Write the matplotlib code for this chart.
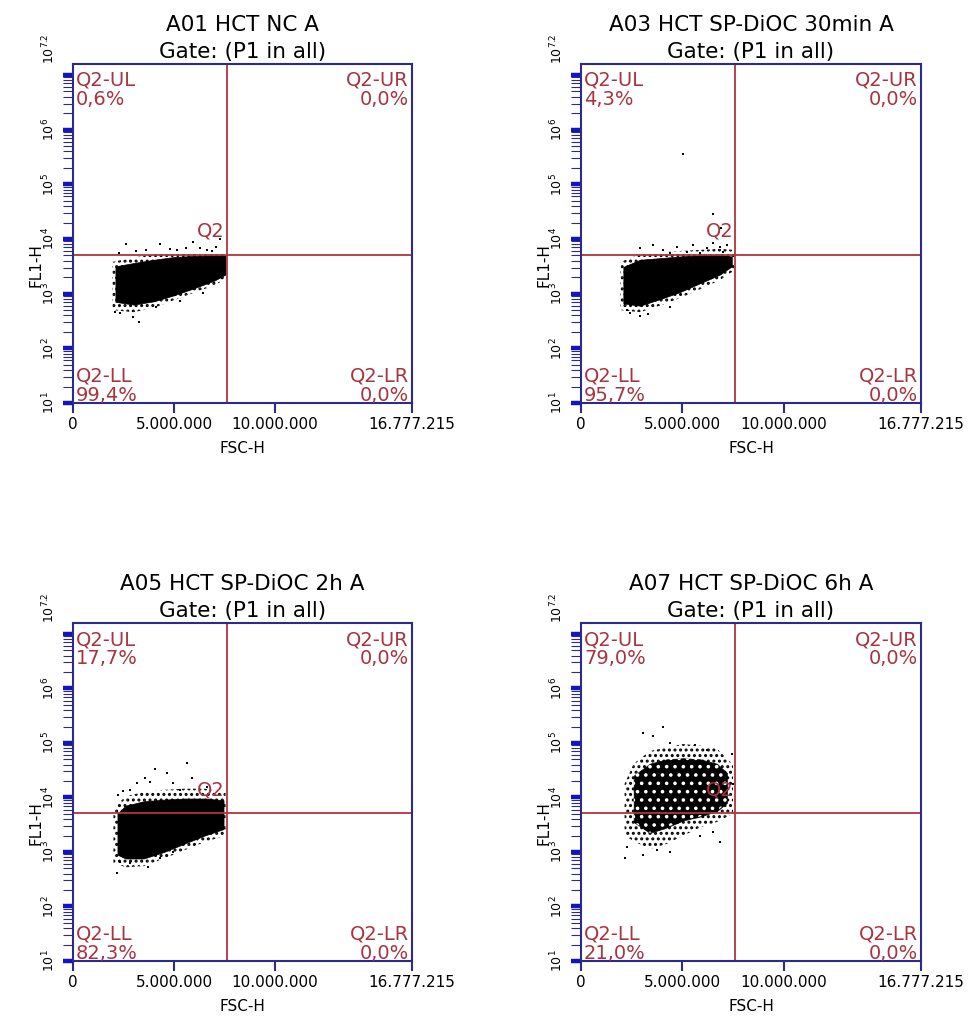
import matplotlib
matplotlib.use("Agg")
import matplotlib.pyplot as plt
from matplotlib.ticker import FixedLocator, FixedFormatter
from matplotlib.transforms import ScaledTranslation

plt.rcParams['font.family'] = ['DejaVu Sans']
plt.rcParams['hatch.linewidth'] = 1.4
plt.rcParams['mathtext.default'] = 'regular'

# ---------------------------------------------------------------- data
sample_names = ["A01 HCT NC A", "A03 HCT SP-DiOC 30min A",
                "A05 HCT SP-DiOC 2h A", "A07 HCT SP-DiOC 6h A"]
gate_name = "Gate: (P1 in all)"

pct_ul = [0.6, 4.3, 17.7, 79.0]
pct_ur = [0.0, 0.0, 0.0, 0.0]
pct_ll = [99.4, 95.7, 82.3, 21.0]
pct_lr = [0.0, 0.0, 0.0, 0.0]

fsc_ticks = [0, 5_000_000, 10_000_000, 16_777_215]
fsc_tick_labels = ["0", "5.000.000", "10.000.000", "16.777.215"]
fl1_ticks = [1e1, 1e2, 1e3, 1e4, 1e5, 1e6, 1e7, 10 ** 7.2]
fl1_tick_labels = [r"$10^1$", r"$10^2$", r"$10^3$", r"$10^4$",
                   r"$10^5$", r"$10^6$", "", r"$10^{7.2}$"]

gate_fsc = 7_620_000
gate_fl1 = 5_150

# dense event cores (FSC-H, lower / upper FL1-H bound)
a01_core_fsc = [2.1e6, 3.0e6, 4.0e6, 5.0e6, 6.0e6, 7.0e6, 7.55e6]
a01_core_lo = [708, 631, 724, 933, 1259, 1738, 2239]
a01_core_hi = [3162, 3631, 4169, 4677, 4898, 5012, 5012]
a03_core_fsc = [2.09e6, 2.91e6, 3.90e6, 4.89e6, 5.87e6, 6.86e6, 7.44e6]
a03_core_lo = [661, 603, 794, 1072, 1549, 2239, 3162]
a03_core_hi = [3090, 4169, 4467, 4786, 5012, 5129, 4786]
a05_core_fsc = [2.2e6, 2.6e6, 3.5e6, 4.5e6, 5.5e6, 6.5e6, 7.45e6]
a05_core_lo = [891, 759, 759, 1000, 1413, 1995, 2630]
a05_core_hi = [5012, 7079, 8511, 9120, 9550, 9550, 8913]
a07_core_fsc = [2.6e6, 3.4e6, 4.23e6, 5.05e6, 5.87e6, 6.7e6, 7.2e6]
a07_core_lo = [3548, 2239, 2818, 3802, 4467, 5623, 7943]
a07_core_hi = [25120, 41690, 50120, 52480, 50120, 41690, 28180]

# sparser fringe around each core
a01_fringe_fsc = [1.95e6, 3.0e6, 4.0e6, 5.0e6, 6.0e6, 7.0e6, 7.6e6]
a01_fringe_lo = [501, 457, 550, 759, 1047, 1413, 1905]
a01_fringe_hi = [3802, 4571, 5248, 5495, 5623, 5754, 5495]
a03_fringe_fsc = [1.95e6, 2.91e6, 3.90e6, 4.89e6, 5.87e6, 6.86e6, 7.55e6]
a03_fringe_lo = [501, 457, 603, 832, 1202, 1778, 2630]
a03_fringe_hi = [3802, 5248, 5754, 6026, 6310, 6607, 6310]
a05_fringe_fsc = [2.0e6, 2.6e6, 3.5e6, 4.5e6, 5.5e6, 6.5e6, 7.55e6]
a05_fringe_lo = [631, 525, 550, 759, 1072, 1514, 1995]
a05_fringe_hi = [6310, 10470, 12590, 13800, 14450, 14450, 12590]
a07_fringe_fsc = [2.15e6, 2.6e6, 3.4e6, 4.23e6, 5.05e6, 5.87e6, 6.7e6, 7.5e6]
a07_fringe_lo = [1995, 1585, 1122, 1413, 1995, 2818, 3548, 5012]
a07_fringe_hi = [17780, 41690, 70790, 83180, 95500, 89130, 79430, 39810]

# isolated events
a01_evt_fsc = [2.64e6, 3.63e6, 4.30e6, 5.13e6, 5.95e6, 6.28e6, 6.61e6, 7.27e6,
               3.27e6, 2.33e6, 2.08e6, 2.98e6, 4.13e6, 5.30e6, 6.45e6,
               2.3e6, 3.1e6, 4.8e6, 5.6e6, 6.9e6, 7.1e6]
a01_evt_fl1 = [7943, 6310, 7943, 6166, 8710, 6761, 6310, 10000,
               302, 437, 468, 380, 562, 724, 1047,
               5623, 6026, 6607, 6918, 6026, 7244]
a03_evt_fsc = [2.91e6, 3.57e6, 4.06e6, 4.39e6, 4.72e6, 5.21e6, 5.54e6, 5.87e6,
               6.20e6, 6.53e6, 6.86e6, 7.02e6, 7.19e6, 6.5e6, 6.9e6, 7.0e6,
               5.03e6, 2.26e6, 2.91e6, 4.39e6, 2.42e6, 3.3e6]
a03_evt_fl1 = [6761, 7762, 6310, 5495, 7244, 5888, 7762, 5495,
               6761, 8318, 7244, 5888, 7762, 28180, 15850, 11220,
               354800, 501, 398, 562, 447, 417]
a05_evt_fsc = [5.63e6, 4.06e6, 4.64e6, 3.56e6, 4.97e6, 3.15e6, 2.49e6, 3.81e6,
               6.62e6, 5.87e6, 2.24e6, 2.82e6, 5.30e6,
               2.16e6, 3.73e6, 2.82e6, 3.15e6, 2.33e6, 4.30e6, 4.97e6]
a05_evt_fl1 = [42660, 33110, 27540, 22390, 18200, 18200, 12880, 19500,
               15850, 22390, 11220, 13800, 13800,
               407, 537, 617, 813, 661, 759, 1000]
a07_evt_fsc = [4.06e6, 3.08e6, 3.57e6, 4.39e6, 5.63e6, 6.20e6, 2.25e6, 2.17e6,
               3.08e6, 3.73e6, 4.39e6, 6.53e6, 6.86e6, 5.87e6, 7.52e6, 7.43e6]
a07_evt_fl1 = [199500, 151400, 131800, 100000, 93330, 74130, 1259, 776,
               871, 1072, 1000, 2291, 1514, 1995, 17380, 63100]

clouds = [
    (a01_core_fsc, a01_core_lo, a01_core_hi, a01_fringe_fsc, a01_fringe_lo,
     a01_fringe_hi, a01_evt_fsc, a01_evt_fl1),
    (a03_core_fsc, a03_core_lo, a03_core_hi, a03_fringe_fsc, a03_fringe_lo,
     a03_fringe_hi, a03_evt_fsc, a03_evt_fl1),
    (a05_core_fsc, a05_core_lo, a05_core_hi, a05_fringe_fsc, a05_fringe_lo,
     a05_fringe_hi, a05_evt_fsc, a05_evt_fl1),
    (a07_core_fsc, a07_core_lo, a07_core_hi, a07_fringe_fsc, a07_fringe_lo,
     a07_fringe_hi, a07_evt_fsc, a07_evt_fl1),
]
# the 6h sample is loose enough to show gaps inside its core
core_gaps = [None, None, None, ".."]

# ---------------------------------------------------------------- style
FRAME = "#2b2b8c"
DECADE = "#1414c4"
GATE = "#b3343e"
QTXT = "#a8343f"

W, H = 971, 1023
fig = plt.figure(figsize=(W / 100, H / 100), dpi=100)

# axes boxes in pixels: left, top, right, bottom
boxes = [(73, 64, 412, 403), (581, 64, 921, 403),
         (73, 623, 412, 961), (581, 623, 921, 961)]


def px_offset(dx, dy):
    return ScaledTranslation(dx / 100, dy / 100, fig.dpi_scale_trans)


def fmt_pct(v):
    return f"{v:.1f}%".replace(".", ",")


for i, (l, t, r, b) in enumerate(boxes):
    ax = fig.add_axes([l / W, 1 - b / H, (r - l) / W, (b - t) / H])
    ax.set_xlim(0, 16_777_215)
    ax.set_yscale("log")
    ax.set_ylim(1e1, 10 ** 7.2)

    cf, clo, chi, ff, flo, fhi, ef, ey = clouds[i]
    ax.fill_between(ff, flo, fhi, facecolor="none", edgecolor="black",
                    hatch="...", linewidth=0, zorder=2)
    ax.fill_between(cf, clo, chi, facecolor="black", edgecolor="black",
                    linewidth=0.5, zorder=3)
    if core_gaps[i]:
        ax.fill_between(cf, clo, chi, facecolor="none", edgecolor="white",
                        hatch=core_gaps[i], linewidth=0, zorder=3.5)
    ax.scatter(ef, ey, s=4, marker="s", color="black", linewidths=0, zorder=3)

    ax.axvline(gate_fsc, color=GATE, lw=1.3, zorder=4)
    ax.axhline(gate_fl1, color=GATE, lw=1.3, zorder=4)

    for sp in ax.spines.values():
        sp.set_color(FRAME)
        sp.set_linewidth(1.5)
        sp.set_zorder(6)

    ax.xaxis.set_major_locator(FixedLocator(fsc_ticks))
    ax.xaxis.set_major_formatter(FixedFormatter(fsc_tick_labels))
    ax.tick_params(axis="x", which="major", direction="out", length=7.2,
                   width=1.5, color=FRAME, labelsize=11, pad=3)

    ax.yaxis.set_major_locator(FixedLocator(fl1_ticks))
    ax.yaxis.set_major_formatter(FixedFormatter(fl1_tick_labels))
    minors = [k * 10 ** n for n in range(1, 7) for k in range(2, 10)]
    ax.yaxis.set_minor_locator(FixedLocator(minors))
    ax.tick_params(axis="y", which="major", direction="out", length=7.2,
                   width=3.2, color=DECADE, labelsize=9, pad=4,
                   labelrotation=90)
    ax.tick_params(axis="y", which="minor", direction="out", length=7.2,
                   width=0.8, color=FRAME, labelleft=False)
    ax.yaxis.get_major_ticks()[-1].tick1line.set_visible(False)
    ylabs = ax.get_yticklabels()
    for lab in ylabs:
        lab.set_va("center")
    ylabs[-1].set_va("bottom")

    ax.set_xlabel("FSC-H", fontsize=11)
    ax.xaxis.set_label_coords(0.5, -38 / (b - t))
    ax.set_ylabel("FL1-H", fontsize=11)
    ax.yaxis.set_label_coords(-37 / (r - l), 0.407)
    ax.yaxis.label.set_va("center")

    # title lines
    ax.text(0.5, 1, sample_names[i], transform=ax.transAxes + px_offset(0, 33),
            ha="center", va="baseline", fontsize=15.5)
    ax.text(0.5, 1, gate_name, transform=ax.transAxes + px_offset(0, 6),
            ha="center", va="baseline", fontsize=15.5)

    # quadrant statistics
    qkw = dict(color=QTXT, fontsize=14, va="baseline", zorder=7)
    ax.text(0, 1, "Q2-UL", transform=ax.transAxes + px_offset(3, -22),
            ha="left", **qkw)
    ax.text(0, 1, fmt_pct(pct_ul[i]), transform=ax.transAxes + px_offset(3, -41),
            ha="left", **qkw)
    ax.text(1, 1, "Q2-UR", transform=ax.transAxes + px_offset(-3, -22),
            ha="right", **qkw)
    ax.text(1, 1, fmt_pct(pct_ur[i]), transform=ax.transAxes + px_offset(-3, -41),
            ha="right", **qkw)
    ax.text(0, 0, "Q2-LL", transform=ax.transAxes + px_offset(3, 22),
            ha="left", **qkw)
    ax.text(0, 0, fmt_pct(pct_ll[i]), transform=ax.transAxes + px_offset(3, 2),
            ha="left", clip_on=True, **qkw)
    ax.text(1, 0, "Q2-LR", transform=ax.transAxes + px_offset(-3, 22),
            ha="right", **qkw)
    ax.text(1, 0, fmt_pct(pct_lr[i]), transform=ax.transAxes + px_offset(-3, 2),
            ha="right", clip_on=True, **qkw)
    ax.text(gate_fsc, gate_fl1, "Q2", transform=ax.transData + px_offset(-2, 18),
            ha="right", **qkw)

fig.savefig("out.png", dpi=100, facecolor="white")
